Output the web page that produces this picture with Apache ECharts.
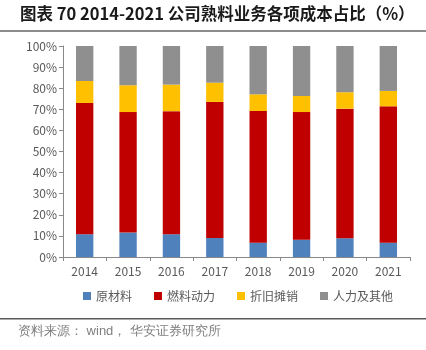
<!DOCTYPE html>
<html>
<head>
<meta charset="utf-8">
<script src="https://cdn.jsdelivr.net/npm/echarts@6/dist/echarts.min.js"></script>
<style>
  html, body { margin: 0; padding: 0; background: #fff; }
  #main { width: 426px; height: 350px; }
</style>
</head>
<body>
<div id="main"></div>
<script>
// 数据（%）
const years = ['2014', '2015', '2016', '2017', '2018', '2019', '2020', '2021'];
const rawMaterial = [10.8, 11.6, 10.8, 9.0, 6.8, 8.2, 8.9, 6.8];
const fuelPower = [62.2, 57.1, 58.3, 64.5, 62.4, 60.5, 61.4, 64.6];
const depreciation = [10.4, 12.7, 12.6, 9.1, 7.9, 7.6, 7.8, 7.3];
const laborOther = [16.6, 18.6, 18.3, 17.4, 22.9, 23.7, 21.9, 21.3];
const yTicks = [0, 10, 20, 30, 40, 50, 60, 70, 80, 90, 100];

const chart = echarts.init(document.getElementById('main'));

const mkSeries = (name, data, color) => ({
    name: name,
    type: 'bar',
    stack: 'total',
    data: data,
    barWidth: '40%',
    itemStyle: { color: color },
    emphasis: { disabled: true }
});

chart.setOption({
    animation: false,
    textStyle: { fontFamily: '"Noto Sans CJK SC", sans-serif' },
    grid: { left: 63, right: 16, top: 46, bottom: 93 },
    legend: {
        bottom: 43,
        left: 78,
        itemWidth: 8,
        itemHeight: 8,
        itemGap: 22,
        icon: 'rect',
        textStyle: { fontSize: 12, color: '#595959' },
        data: ['原材料', '燃料动力', '折旧摊销', '人力及其他']
    },
    xAxis: {
        type: 'category',
        data: years,
        axisLine: { lineStyle: { color: '#898989' } },
        axisTick: { show: true, length: 4, lineStyle: { color: '#898989' } },
        axisLabel: { color: '#595959', fontSize: 12, margin: 8 }
    },
    yAxis: {
        type: 'value',
        min: yTicks[0],
        max: yTicks[yTicks.length - 1],
        interval: 10,
        splitLine: { show: false },
        axisLine: { show: true, lineStyle: { color: '#898989' } },
        axisTick: { show: true, length: 4, lineStyle: { color: '#898989' } },
        axisLabel: { color: '#595959', fontSize: 12, margin: 6, formatter: '{value}%' }
    },
    series: [
        mkSeries('原材料', rawMaterial, '#4f81bd'),
        mkSeries('燃料动力', fuelPower, '#c00000'),
        mkSeries('折旧摊销', depreciation, '#ffc000'),
        mkSeries('人力及其他', laborOther, '#8f8f8f')
    ],
    graphic: [
        {
            type: 'text',
            left: 20,
            top: 5,
            style: {
                text: '图表 70 2014-2021 公司熟料业务各项成本占比（%）',
                fontSize: 16.5,
                fontWeight: 'bold',
                fill: '#1a1a1a',
                fontFamily: '"Noto Sans CJK SC", serif'
            }
        },
        {
            type: 'rect',
            shape: { x: 0, y: 30, width: 426, height: 2 },
            style: { fill: '#8c8c8c' }
        },
        {
            type: 'rect',
            shape: { x: 0, y: 318, width: 426, height: 1.5 },
            style: { fill: '#595959' }
        },
        {
            type: 'text',
            left: 18,
            top: 325,
            style: {
                text: '资料来源： wind， 华安证券研究所',
                fontSize: 13,
                fill: '#7f7f7f'
            }
        }
    ]
});
</script>
</body>
</html>
